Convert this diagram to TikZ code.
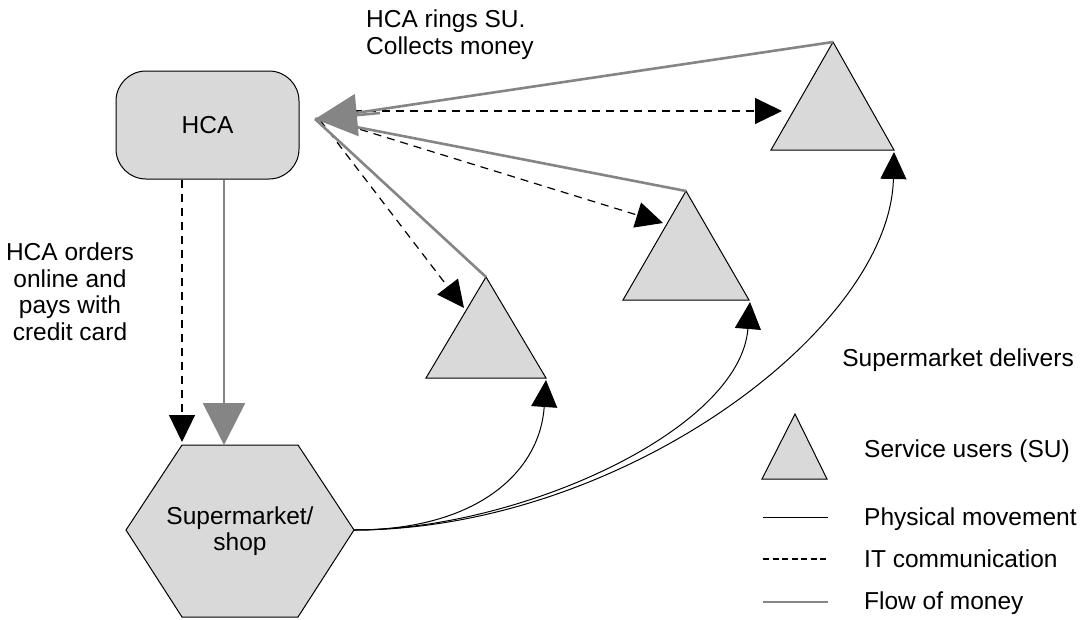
\documentclass[tikz,border=0pt]{standalone}
\usepackage{fontspec}
\setmainfont{Liberation Sans}
\usetikzlibrary{arrows.meta,calc}
\definecolor{fillgray}{HTML}{D9D9D9}
\definecolor{money}{HTML}{858585}
\begin{document}
\begin{tikzpicture}[x=1pt,y=-1pt,
  txt/.style={font=\fontsize{24.5}{26.5}\selectfont, inner sep=0pt},
  shapeline/.style={draw=black, line width=1pt, fill=fillgray},
  phys/.style={draw=black, line width=1pt},
  itcom/.style={draw=black, line width=1.2pt, dash pattern=on 8pt off 6pt},
  moneyline/.style={draw=money, line width=2.6pt},
  blackhead/.style={-{Triangle[length=27pt,width=26pt]}},
  moneyhead/.style={-{Triangle[length=42pt,width=42pt]}},
]
\useasboundingbox (0,0) rectangle (1082,619);

% HCA box
\node[shapeline, rounded corners=30pt, minimum width=183pt, minimum height=108pt, txt] (hca) at (207.5,125) {HCA};

% Hexagon (supermarket)
\coordinate (hx1) at (182,445);
\coordinate (hx2) at (298,445);
\coordinate (hx3) at (354,530);
\coordinate (hx4) at (298,617);
\coordinate (hx5) at (182,617);
\coordinate (hx6) at (126,530);
\draw[shapeline] (hx1) -- (hx2) -- (hx3) -- (hx4) -- (hx5) -- (hx6) -- cycle;
\node[txt, align=center] (shop) at (240,531) {Supermarket/\\shop};
\coordinate (shopTd) at (182,442);
\coordinate (shopTm) at (224,445);

% Service user triangles
\coordinate (su1a) at (486,277); \coordinate (su1l) at (426,378); \coordinate (su1r) at (546,378);
\coordinate (su2a) at (686,191); \coordinate (su2l) at (623,300); \coordinate (su2r) at (749,300);
\coordinate (su3a) at (833,42);  \coordinate (su3l) at (771,150); \coordinate (su3r) at (894,150);
\draw[shapeline] (su1a) -- (su1l) -- (su1r) -- cycle;
\draw[shapeline] (su2a) -- (su2l) -- (su2r) -- cycle;
\draw[shapeline] (su3a) -- (su3l) -- (su3r) -- cycle;

% HCA -> supermarket
\draw[itcom, blackhead] (hca.south -| shopTd) -- (shopTd);
\draw[moneyline, moneyhead] (hca.south -| shopTm) -- (shopTm);

% IT communication from HCA to SU
\coordinate (d1s) at (320,120); \coordinate (d1e) at (464,308);
\coordinate (d2s) at (320,117); \coordinate (d2e) at (663,223);
\coordinate (d3s) at (340,111); \coordinate (d3e) at (782,111);
\draw[itcom, blackhead] (d1s) -- (d1e);
\draw[itcom, blackhead] (d2s) -- (d2e);
\draw[itcom, blackhead] (d3s) -- (d3e);

% money flow from SU to HCA
\coordinate (mtip) at (315,119);
\coordinate (mbase) at (380,113);
\draw[moneyline] (su1a) -- (mtip);
\draw[moneyline] (su2a) -- (mtip);
\draw[moneyline] (su3a) -- (mtip);
\draw[moneyline, moneyhead] (mbase) -- (mtip);

% deliveries
\coordinate (t1) at (546,380);
\coordinate (t2) at (750,302);
\coordinate (t3) at (894,152);
\draw[phys, blackhead] (hx3) .. controls (480,530) and (540,470) .. (t1);
\draw[phys, blackhead] (hx3) .. controls (520,530) and (740,430) .. (t2);
\draw[phys, blackhead] (hx3) .. controls (620,530) and (890,330) .. (t3);

% labels
\node[txt, align=left, anchor=north west] (lring) at (366,10) {HCA rings SU.\\Collects money};
\node[txt, align=center, anchor=north] (lorder) at (70,243) {HCA orders\\online and\\pays with\\credit card};
\node[txt, anchor=base east] (ldeliv) at (1074,366) {Supermarket delivers};

% legend
\coordinate (lga) at (795,414); \coordinate (lgl) at (762,479); \coordinate (lgr) at (827,479);
\draw[shapeline] (lga) -- (lgl) -- (lgr) -- cycle;
\node[txt, anchor=base west] (leg1) at (864,457) {Service users (SU)};
\coordinate (lp1) at (763,517); \coordinate (lp2) at (828,517);
\draw[phys] (lp1) -- (lp2);
\node[txt, anchor=base west] (leg2) at (864,525) {Physical movement};
\coordinate (li1) at (763,559); \coordinate (li2) at (828,559);
\draw[draw=black, line width=1.2pt, dash pattern=on 6pt off 3.5pt] (li1) -- (li2);
\node[txt, anchor=base west] (leg3) at (864,567) {IT communication};
\coordinate (lm1) at (763,602); \coordinate (lm2) at (828,602);
\draw[moneyline] (lm1) -- (lm2);
\node[txt, anchor=base west] (leg4) at (864,609) {Flow of money};
\end{tikzpicture}
\end{document}
